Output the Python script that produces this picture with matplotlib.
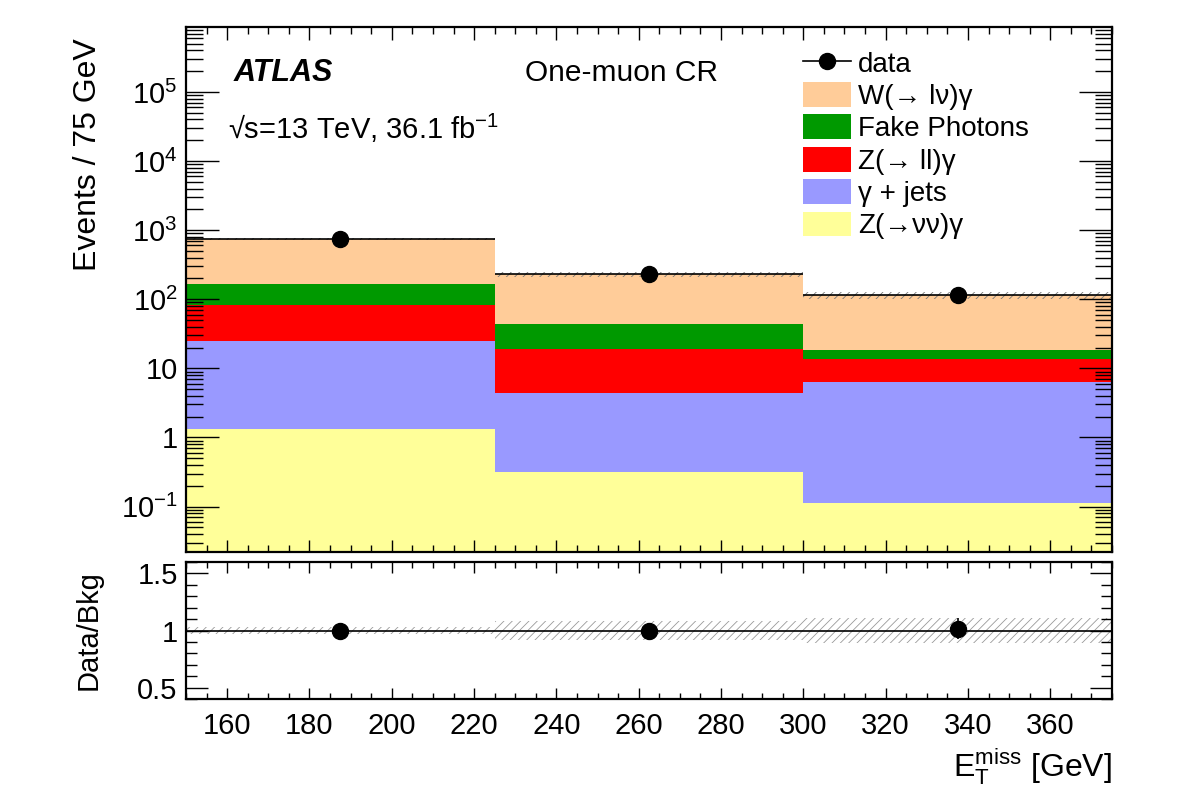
import numpy as np
import matplotlib
matplotlib.use("Agg")
import matplotlib.pyplot as plt
from matplotlib.ticker import LogLocator, NullFormatter, FuncFormatter, MultipleLocator
from matplotlib.lines import Line2D
from matplotlib.patches import Patch

# binning and yields
edges = [150, 225, 300, 375]
centres = [187.5, 262.5, 337.5]
znunu = [1.32, 0.32, 0.112]
gjets = [23.7, 4.03, 6.19]
zll = [58.0, 14.85, 7.4]
fake = [81.0, 24.3, 4.8]
wgam = [573.0, 187.5, 96.5]
data = [737, 231, 117]
bkg_unc = [0.03, 0.08, 0.11]  # relative uncertainty of the total background

labels = ['Z(→νν)γ', 'γ + jets', 'Z(→ ll)γ', 'Fake Photons', 'W(→ lν)γ']
colors = ['#FFFF99', '#9999FF', '#FF0000', '#009900', '#FFCC99']

plt.rcParams['font.family'] = ['Liberation Sans', 'DejaVu Sans']
plt.rcParams['mathtext.fontset'] = 'custom'
plt.rcParams['mathtext.rm'] = 'Liberation Sans'
plt.rcParams['mathtext.it'] = 'Liberation Sans:italic'
plt.rcParams['mathtext.bf'] = 'Liberation Sans:bold'
plt.rcParams['hatch.linewidth'] = 0.6

fig = plt.figure(figsize=(11.82, 8), dpi=100)
ax = fig.add_axes([186/1182, 1-552/800, 926/1182, 525/800])
rax = fig.add_axes([186/1182, 1-699/800, 926/1182, 137/800])

# stacked backgrounds
comps = [znunu, gjets, zll, fake, wgam]
bottom = np.zeros(3)
for vals, col in zip(comps, colors):
    top = bottom + np.array(vals)
    ax.stairs(top, edges, baseline=bottom.copy(), fill=True, color=col, lw=0)
    bottom = top
total = bottom

unc = np.array(bkg_unc)
ax.stairs(total*(1+unc), edges, baseline=total*(1-unc), fill=False, hatch='////',
          edgecolor='#777777', lw=0)
ax.hlines(total, edges[:-1], edges[1:], color='black', lw=1.2)

data = np.array(data, dtype=float)
ax.errorbar(centres, data, yerr=np.sqrt(data), fmt='o', color='black', ms=11.5, lw=1.2)

ax.set_yscale('log')
ax.set_xlim(150, 375)
ax.set_ylim(0.022, 8.7e5)

def logfmt(v, pos):
    if np.isclose(v, 1):
        return '1'
    if np.isclose(v, 10):
        return '10'
    return '$10^{%d}$' % int(round(np.log10(v)))

ax.yaxis.set_major_locator(LogLocator(base=10, numticks=20))
ax.yaxis.set_minor_locator(LogLocator(base=10, subs=np.arange(2, 10), numticks=20))
ax.yaxis.set_major_formatter(FuncFormatter(logfmt))
ax.yaxis.set_minor_formatter(NullFormatter())
ax.xaxis.set_major_locator(MultipleLocator(20))
ax.xaxis.set_minor_locator(MultipleLocator(5))
ax.xaxis.set_major_formatter(NullFormatter())
ax.tick_params(axis='both', which='both', direction='in', top=True, right=True, width=1)
ax.tick_params(axis='y', which='major', length=24, labelsize=21, pad=6)
ax.tick_params(axis='y', which='minor', length=12)
ax.tick_params(axis='x', which='major', length=9, labelbottom=False)
ax.tick_params(axis='x', which='minor', length=5)
ax.set_ylabel('Events / 75 GeV', fontsize=23, loc='top')
ax.yaxis.set_label_coords(-0.09, 0.979)

ax.text(0.051, 0.912, 'ATLAS', transform=ax.transAxes, fontsize=22,
        fontweight='bold', fontstyle='italic', va='center')
ax.text(0.366, 0.912, 'One-muon CR', transform=ax.transAxes, fontsize=21.5, va='center')
ax.text(0.045, 0.807, '√s=13 TeV, 36.1 fb$^{\\mathrm{-1}}$',
        transform=ax.transAxes, fontsize=21, va='center')

handles = [Line2D([], [], color='black', marker='o', ms=11.5, lw=1.2)]
handles += [Patch(facecolor=c, edgecolor='none') for c in colors[::-1]]
leg = ax.legend(handles, ['data'] + labels[::-1], loc='upper left',
                bbox_to_anchor=(0.666, 0.957), frameon=False, fontsize=20,
                handlelength=1.73, handleheight=1.0, handletextpad=0.25,
                labelspacing=0.16, borderpad=0, borderaxespad=0)

# ratio panel
ratio = data/total
rerr = np.sqrt(data)/total
rax.stairs(1+unc, edges, baseline=1-unc, fill=False, hatch='////',
           edgecolor='#999999', lw=0)
rax.hlines([1, 1, 1], edges[:-1], edges[1:], color='black', lw=1.2)
rax.errorbar(centres, ratio, yerr=rerr, fmt='o', color='black', ms=11.5, lw=1.2)
rax.set_xlim(150, 375)
rax.set_ylim(0.4, 1.6)
rax.set_yticks([0.5, 1, 1.5])
rax.set_yticklabels(['0.5', '1', '1.5'])
rax.yaxis.set_minor_locator(MultipleLocator(0.1))
rax.yaxis.set_minor_formatter(NullFormatter())
rax.xaxis.set_major_locator(MultipleLocator(20))
rax.xaxis.set_minor_locator(MultipleLocator(5))
rax.tick_params(axis='both', which='both', direction='in', top=True, right=True, width=1)
rax.tick_params(axis='y', which='major', length=16, labelsize=21, pad=6)
rax.tick_params(axis='y', which='minor', length=8)
rax.tick_params(axis='x', which='major', length=8, labelsize=21, pad=9)
rax.tick_params(axis='x', which='minor', length=4.5)
rax.set_ylabel('Data/Bkg', fontsize=21)
rax.yaxis.set_label_coords(-0.09, 0.5)
rax.set_xlabel(r'$\mathrm{E}_{\mathrm{T}}^{\mathrm{miss}}$ [GeV]', fontsize=23, loc='right')
rax.xaxis.set_label_coords(1.0, -0.35)

for a in (ax, rax):
    for s in a.spines.values():
        s.set_linewidth(1.6)

fig.savefig('out.png', dpi=100)
